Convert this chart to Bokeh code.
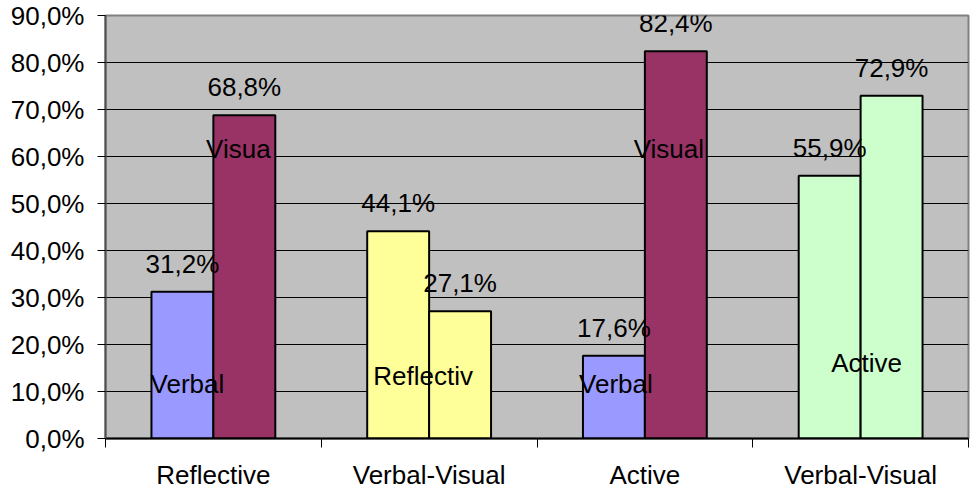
from bokeh.plotting import figure
from bokeh.models import Range1d, FixedTicker, ColumnDataSource, LabelSet
from bokeh.core.properties import value
from bokeh.embed import file_html
from bokeh.resources import INLINE

# ---- data ----
categories = ["Reflective", "Verbal-Visual", "Active", "Verbal-Visual"]
left_values = [31.2, 44.1, 17.6, 55.9]
right_values = [68.8, 27.1, 82.4, 72.9]
left_colors = ["#9999FF", "#FFFF99", "#9999FF", "#CCFFCC"]
right_colors = ["#993366", "#FFFF99", "#993366", "#CCFFCC"]
inner_labels = ["Verbal", "Visua", "Reflectiv", "Verbal", "Visual", "Active"]
inner_label_group = [0, 0, 1, 2, 2, 3]
inner_label_y = [11.5, 61.6, 13.4, 11.5, 61.6, 16.1]
y_ticks = [0, 10, 20, 30, 40, 50, 60, 70, 80, 90]
y_tick_labels = ["0,0%", "10,0%", "20,0%", "30,0%", "40,0%", "50,0%",
                 "60,0%", "70,0%", "80,0%", "90,0%"]

# ---- style ----
FONT = "Liberation Sans"
FS = "26px"
BAR_W = 0.287
inner_label_dx = [-26, 25, -6, -29, 24, 6]

n = len(categories)
centers = [i + 0.5 for i in range(n)]

p = figure(width=970, height=493, x_range=Range1d(0, n), y_range=Range1d(0, 90),
           output_backend="svg", toolbar_location=None,
           min_border_left=105, min_border_top=15, min_border_bottom=55, min_border_right=2)
p.background_fill_color = "#C0C0C0"
p.border_fill_color = "white"
p.outline_line_color = "#808080"
p.outline_line_width = 2

# grid
p.xgrid.visible = False
p.ygrid.ticker = FixedTicker(ticks=y_ticks)
p.ygrid.grid_line_color = "black"
p.ygrid.grid_line_width = 1

# y axis
p.yaxis.ticker = FixedTicker(ticks=y_ticks)
p.yaxis.major_label_overrides = {t: l for t, l in zip(y_ticks, y_tick_labels)}
p.yaxis.major_label_text_font = FONT
p.yaxis.major_label_text_font_size = FS
p.yaxis.major_label_text_color = "black"
p.yaxis.major_tick_out = 8
p.yaxis.major_tick_in = 0
p.yaxis.major_tick_line_color = "black"
p.yaxis.minor_tick_line_color = None
p.yaxis.major_label_standoff = 13
p.yaxis.axis_line_color = "#505050"
p.yaxis.axis_line_width = 2

# x axis
p.xaxis.ticker = FixedTicker(ticks=centers, minor_ticks=list(range(n + 1)))
p.xaxis.major_label_overrides = {c: l for c, l in zip(centers, categories)}
p.xaxis.major_label_text_font = FONT
p.xaxis.major_label_text_font_size = FS
p.xaxis.major_label_text_color = "black"
p.xaxis.major_tick_line_color = None
p.xaxis.major_tick_out = 0
p.xaxis.major_tick_in = 0
p.xaxis.minor_tick_out = 9
p.xaxis.minor_tick_in = 0
p.xaxis.minor_tick_line_color = "black"
p.xaxis.major_label_standoff = 12
p.xaxis.axis_line_color = "black"
p.xaxis.axis_line_width = 2

# bars
left_x = [c - BAR_W / 2 for c in centers]
right_x = [c + BAR_W / 2 for c in centers]
bars = ColumnDataSource(dict(
    x=left_x + right_x,
    top=left_values + right_values,
    color=left_colors + right_colors,
    label=[f"{v:.1f}%".replace(".", ",") for v in left_values + right_values],
))
p.vbar(x="x", top="top", bottom=0, width=BAR_W, fill_color="color",
       line_color="black", line_width=2, source=bars)

# value labels (annotation so they are not clipped at the frame top)
p.add_layout(LabelSet(x="x", y="top", text="label", source=bars, y_offset=28,
                      text_font=value(FONT), text_font_size=value(FS), text_color="black",
                      text_align="center", text_baseline="middle"))

# series-name labels inside bars
inner = ColumnDataSource(dict(
    x=[centers[g] for g in inner_label_group],
    y=inner_label_y,
    text=inner_labels,
    dx=inner_label_dx,
))
p.text(x="x", y="y", text="text", x_offset="dx", source=inner,
       text_font=value(FONT), text_font_size=value(FS), text_color="black",
       text_align="center", text_baseline="middle")

open("out.html", "w").write(file_html(p, INLINE))
